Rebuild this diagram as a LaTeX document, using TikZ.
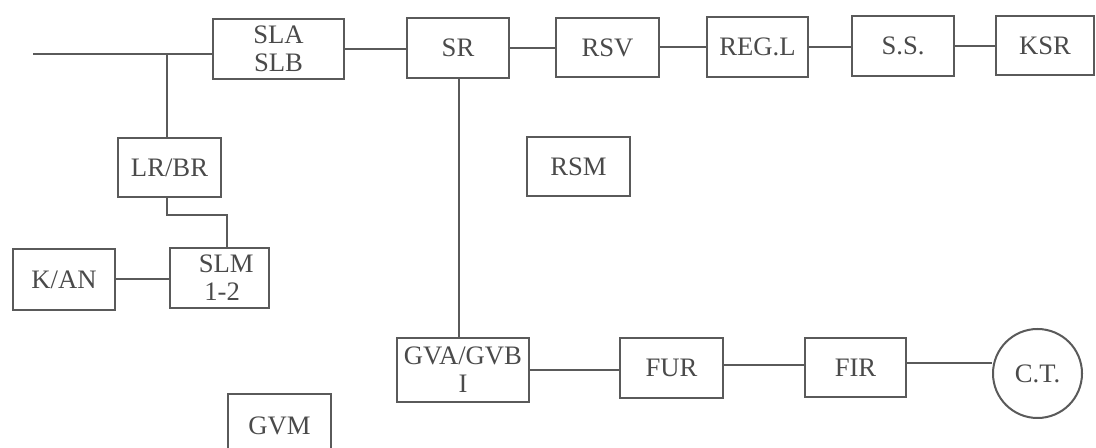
\documentclass[tikz,border=0pt]{standalone}
\usepackage{fontspec}
\setmainfont{Liberation Serif}
\definecolor{linec}{HTML}{5A5A5A}
\definecolor{textc}{HTML}{4A4A4A}
\begin{document}
\begin{tikzpicture}[x=0.75pt,y=-0.75pt,
  box/.style={draw=linec, line width=1.5pt, fill=white, inner sep=0pt, text=textc,
    font=\fontsize{20}{21}\selectfont, align=center},
  bx/.style 2 args={box, minimum width=#1*0.75pt, minimum height=#2*0.75pt},
  conn/.style={draw=linec, line width=1.5pt}]
\fill[white] (0,0) rectangle (1096,448);
\useasboundingbox (0,0) rectangle (1096,448);

% top row
\node[bx={131}{60}] (sla) at (278.5,49) {SLA\\SLB};
\node[bx={102}{60}] (sr) at (458,48) {SR};
\node[bx={103}{59}] (rsv) at (607.5,47.5) {RSV};
\node[bx={101}{60}] (regl) at (757.5,47) {REG.L};
\node[bx={102}{60}] (ss) at (903,46) {S.S.};
\node[bx={98}{59}] (ksr) at (1045,45.5) {KSR};

% middle
\node[bx={103}{59}] (lrbr) at (169.5,167.5) {LR/BR};
\node[bx={103}{59}] (rsm) at (578.5,166.5) {RSM};
\node[bx={102}{61}] (kan) at (64,279.5) {K/AN};
\node[bx={99}{60}] (slm) at (219.5,278) {\hspace*{10pt}SLM\\\hspace*{4pt}1-2};

% bottom
\node[bx={132}{64}] (gva) at (463,370) {GVA/GVB\\I};
\node[bx={103}{64}] (gvm) at (279.5,426) {GVM};
\node[bx={103}{60}] (fur) at (671.5,368) {FUR};
\node[bx={101}{59}] (fir) at (855.5,367.5) {FIR};
\node[box, circle, minimum size=89*0.75pt] (ct) at (1037.5,373.5) {C.T.};

% connectors
\coordinate (in) at (33,54);
\coordinate (j) at (167,54);
\coordinate (b1) at (167,215);
\coordinate (b2) at (227,215);
\coordinate (sx) at (459,0);
\coordinate (fe) at ([yshift=3pt]fir.east);
\coordinate (ue) at ([yshift=2pt]fur.east);

\draw[conn] (in) -- (in -| sla.west);
\draw[conn] (j) -- (j |- lrbr.north);
\draw[conn] (j |- lrbr.south) -- (b1) -- (b2) -- (b2 |- slm.north);
\draw[conn] (sla.east) -- (sla.east -| sr.west);
\draw[conn] (sr.east) -- (sr.east -| rsv.west);
\draw[conn] (rsv.east) -- (rsv.east -| regl.west);
\draw[conn] (regl.east) -- (regl.east -| ss.west);
\draw[conn] (ss.east) -- (ss.east -| ksr.west);
\draw[conn] (sx |- sr.south) -- (sx |- gva.north);
\draw[conn] (kan.east) -- (kan.east -| slm.west);
\draw[conn] (gva.east) -- (gva.east -| fur.west);
\draw[conn] (ue) -- (ue -| fir.west);
\draw[conn] (fe) -- (fe -| ct.west);
\end{tikzpicture}
\end{document}
